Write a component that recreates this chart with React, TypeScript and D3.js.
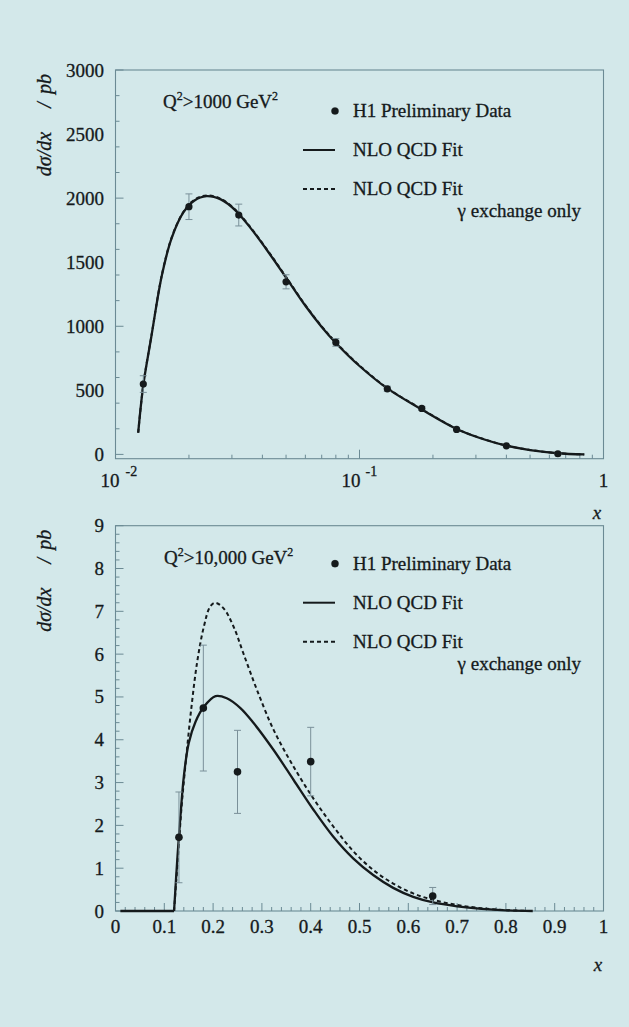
import React from 'react';
import * as d3 from 'd3';

const W = 629;
const H = 1027;
const FONT = '"Liberation Serif", "DejaVu Serif", serif';
const BG = '#d3e8ea';
const FRAME = '#6b8a94';
const INK = '#151a1c';
const ERR = '#7a9099';

// ---- upper panel: Q^2 > 1000 GeV^2 (log x) ----
const topDataX = [0.013, 0.02, 0.032, 0.05, 0.08, 0.13, 0.18, 0.25, 0.4, 0.65];
const topDataY = [549, 1933, 1868, 1347, 874, 512, 359, 195, 67, 5];
const topDataErr = [65, 100, 85, 55, 30, 20, 15, 10, 8, 4];

const topFitX = [0.01239, 0.013, 0.014, 0.0155, 0.017, 0.019, 0.021, 0.0236, 0.027, 0.031, 0.036, 0.043, 0.05, 0.06, 0.07, 0.08, 0.1, 0.13, 0.18, 0.25, 0.32, 0.4, 0.5, 0.65, 0.834];
const topFitY = [169, 541, 910, 1400, 1690, 1890, 1980, 2016, 1990, 1905, 1760, 1560, 1380, 1160, 995, 870, 690, 515, 350, 198, 120, 68, 34, 9, 0];
const topGammaY = [170, 543, 913, 1404, 1694, 1894, 1985, 2021, 1995, 1910, 1765, 1565, 1385, 1165, 999, 874, 694, 518, 353, 200, 122, 69, 35, 9, 0];

const topYTickLabels = ['0', '500', '1000', '1500', '2000', '2500', '3000'];

// ---- lower panel: Q^2 > 10,000 GeV^2 (linear x) ----
const botDataX = [0.13, 0.18, 0.25, 0.4, 0.65];
const botDataY = [1.72, 4.74, 3.25, 3.49, 0.35];
const botDataErr = [1.06, 1.47, 0.97, 0.8, 0.2];

const botFlatX = [0.01, 0.12];
const botFitX = [0.12, 0.127, 0.133, 0.14, 0.15, 0.164, 0.181, 0.205, 0.228, 0.256, 0.283, 0.324, 0.365, 0.406, 0.446, 0.487, 0.528, 0.569, 0.61, 0.651, 0.7, 0.75, 0.8, 0.855];
const botFitY = [0, 1.27, 2.2, 3.14, 3.92, 4.42, 4.77, 5.02, 4.97, 4.74, 4.39, 3.76, 3.06, 2.36, 1.74, 1.23, 0.84, 0.54, 0.33, 0.2, 0.11, 0.05, 0.015, 0];
const botGammaX = [0.12, 0.129, 0.136, 0.145, 0.155, 0.167, 0.181, 0.194, 0.2045, 0.2215, 0.242, 0.262, 0.29, 0.324, 0.365, 0.406, 0.446, 0.487, 0.528, 0.569, 0.61, 0.651, 0.7, 0.75, 0.8, 0.855];
const botGammaY = [0, 1.42, 2.52, 3.6, 4.7, 5.79, 6.64, 7.11, 7.2, 7.07, 6.64, 6.02, 5.16, 4.23, 3.37, 2.62, 1.98, 1.4, 0.96, 0.64, 0.41, 0.26, 0.14, 0.065, 0.02, 0];

const botXTickLabels = ['0', '0.1', '0.2', '0.3', '0.4', '0.5', '0.6', '0.7', '0.8', '0.9', '1'];
const botYTickLabels = ['0', '1', '2', '3', '4', '5', '6', '7', '8', '9'];

const legendLabels = ['H1 Preliminary Data', 'NLO QCD Fit', 'NLO QCD Fit', 'γ exchange only'];

const LEFT = 115.5;
const RIGHT = 603.5;
const smooth = d3.curveCatmullRom.alpha(0.5);

function Legend({ top }: { top: number }) {
  const ys = [top + 40, top + 79, top + 118, top + 140];
  return (
    <g fontFamily={FONT} fontSize={19} fill={INK} stroke={INK} strokeWidth={0.3}>
      <circle cx={335} cy={ys[0]} r={3.6} fill={INK} />
      <text x={353} y={ys[0] + 6}>{legendLabels[0]}</text>
      <line x1={303} x2={335} y1={ys[1]} y2={ys[1]} stroke={INK} strokeWidth={2} />
      <text x={353} y={ys[1] + 6}>{legendLabels[1]}</text>
      <line x1={303} x2={335} y1={ys[2]} y2={ys[2]} stroke={INK} strokeWidth={2} strokeDasharray="4,3" />
      <text x={353} y={ys[2] + 6}>{legendLabels[2]}</text>
      <text x={581} y={ys[3] + 6} textAnchor="end">{legendLabels[3]}</text>
    </g>
  );
}

function YTitle({ top }: { top: number }) {
  const x = 51;
  return (
    <g fontFamily={FONT} fontStyle="italic" fontSize={20} fill={INK} stroke={INK} strokeWidth={0.3}>
      <text transform={`translate(${x},${top + 14}) rotate(-90)`} textAnchor="middle">pb</text>
      <text transform={`translate(${x},${top + 35}) rotate(-90)`} textAnchor="middle">/</text>
      <text transform={`translate(${x},${top + 84}) rotate(-90)`} textAnchor="middle">dσ/dx</text>
    </g>
  );
}

function TopPanel() {
  const top = 70;
  const bottom = 458.7;
  const x = d3.scaleLog().domain([0.01, 1]).range([LEFT, RIGHT]);
  const y = d3.scaleLinear().domain([0, 3000]).range([454.4, top]);

  const line = d3.line<number>().x((_, i) => x(topFitX[i])).y(d => y(d)).curve(smooth);
  const xTicks = x.ticks();
  const yTicks = y.ticks(12);

  return (
    <g>
      <rect x={LEFT} y={top} width={RIGHT - LEFT} height={bottom - top} fill="none" stroke={FRAME} strokeWidth={1.1} />
      {yTicks.map(t => (
        <line key={t} x1={LEFT} x2={LEFT + (t % 500 === 0 ? 8 : 4)} y1={y(t)} y2={y(t)} stroke={FRAME} strokeWidth={1} />
      ))}
      {xTicks.map(t => {
        const major = Math.abs(Math.log10(t) - Math.round(Math.log10(t))) < 1e-6;
        return <line key={t} x1={x(t)} x2={x(t)} y1={bottom} y2={bottom - (major ? 9 : 4)} stroke={FRAME} strokeWidth={1} />;
      })}
      <g fontFamily={FONT} fontSize={19} fill={INK} stroke={INK} strokeWidth={0.3}>
        {topYTickLabels.map(l => (
          <text key={l} x={104} y={y(+l) + 6.5} textAnchor="end">{l}</text>
        ))}
        <text x={x(0.01) + 4} y={487} textAnchor="end">10</text>
        <text x={x(0.01) + 10} y={476} fontSize={14}>-2</text>
        <text x={x(0.1) + 1} y={487} textAnchor="end">10</text>
        <text x={x(0.1) + 6} y={476} fontSize={14}>-1</text>
        <text x={x(1)} y={487} textAnchor="middle">1</text>
        <text x={597} y={519} fontStyle="italic" textAnchor="middle">x</text>
        <text x={163} y={108}>
          Q<tspan dy={-8} fontSize={12}>2</tspan>
          <tspan dy={8}>&gt;1000 GeV</tspan>
          <tspan dy={-8} fontSize={12}>2</tspan>
        </text>
      </g>
      <YTitle top={top} />
      <Legend top={top + 1} />
      <path d={line(topGammaY) || ''} fill="none" stroke={INK} strokeWidth={2} strokeDasharray="4,3" />
      <path d={line(topFitY) || ''} fill="none" stroke={INK} strokeWidth={2.3} />
      {topDataX.map((v, i) => (
        <g key={v} stroke={ERR} strokeWidth={1}>
          <line x1={x(v)} x2={x(v)} y1={y(topDataY[i] - topDataErr[i])} y2={y(topDataY[i] + topDataErr[i])} />
          <line x1={x(v) - 3.5} x2={x(v) + 3.5} y1={y(topDataY[i] - topDataErr[i])} y2={y(topDataY[i] - topDataErr[i])} />
          <line x1={x(v) - 3.5} x2={x(v) + 3.5} y1={y(topDataY[i] + topDataErr[i])} y2={y(topDataY[i] + topDataErr[i])} />
          <circle cx={x(v)} cy={y(topDataY[i])} r={3.6} fill={INK} stroke="none" />
        </g>
      ))}
    </g>
  );
}

function BottomPanel() {
  const top = 525.7;
  const bottom = 911;
  const x = d3.scaleLinear().domain([0, 1]).range([LEFT, RIGHT]);
  const y = d3.scaleLinear().domain([0, 9]).range([bottom, top]);

  const fit = d3.line<number>().x((_, i) => x(botFitX[i])).y(d => y(d)).curve(smooth);
  const gamma = d3.line<number>().x((_, i) => x(botGammaX[i])).y(d => y(d)).curve(smooth);
  const flat = d3.line<number>().x(d => x(d)).y(() => y(0));
  const xTicks = x.ticks(50);
  const yTicks = y.ticks(45);

  return (
    <g>
      <rect x={LEFT} y={top} width={RIGHT - LEFT} height={bottom - top} fill="none" stroke={FRAME} strokeWidth={1.1} />
      {yTicks.map(t => (
        <line key={t} x1={LEFT} x2={LEFT + (Math.abs(t - Math.round(t)) < 1e-6 ? 8 : 4)} y1={y(t)} y2={y(t)} stroke={FRAME} strokeWidth={1} />
      ))}
      {xTicks.map(t => (
        <line key={t} x1={x(t)} x2={x(t)} y1={bottom} y2={bottom - (Math.abs(t * 10 - Math.round(t * 10)) < 1e-6 ? 8 : 4)} stroke={FRAME} strokeWidth={1} />
      ))}
      <g fontFamily={FONT} fontSize={19} fill={INK} stroke={INK} strokeWidth={0.3}>
        {botYTickLabels.map(l => (
          <text key={l} x={104} y={y(+l) + 6.5} textAnchor="end">{l}</text>
        ))}
        {botXTickLabels.map(l => (
          <text key={l} x={x(+l)} y={933} textAnchor="middle">{l}</text>
        ))}
        <text x={598} y={971} fontStyle="italic" textAnchor="middle">x</text>
        <text x={164} y={564}>
          Q<tspan dy={-8} fontSize={12}>2</tspan>
          <tspan dy={8}>&gt;10,000 GeV</tspan>
          <tspan dy={-8} fontSize={12}>2</tspan>
        </text>
      </g>
      <YTitle top={top} />
      <Legend top={top - 2} />
      <path d={flat(botFlatX) || ''} fill="none" stroke={INK} strokeWidth={2.3} />
      <path d={gamma(botGammaY) || ''} fill="none" stroke={INK} strokeWidth={2} strokeDasharray="4,3" />
      <path d={fit(botFitY) || ''} fill="none" stroke={INK} strokeWidth={2.3} />
      {botDataX.map((v, i) => (
        <g key={v} stroke={ERR} strokeWidth={1}>
          <line x1={x(v)} x2={x(v)} y1={y(botDataY[i] - botDataErr[i])} y2={y(botDataY[i] + botDataErr[i])} />
          <line x1={x(v) - 3.5} x2={x(v) + 3.5} y1={y(botDataY[i] - botDataErr[i])} y2={y(botDataY[i] - botDataErr[i])} />
          <line x1={x(v) - 3.5} x2={x(v) + 3.5} y1={y(botDataY[i] + botDataErr[i])} y2={y(botDataY[i] + botDataErr[i])} />
          <circle cx={x(v)} cy={y(botDataY[i])} r={3.8} fill={INK} stroke="none" />
        </g>
      ))}
    </g>
  );
}

export default function App() {
  return (
    <svg width={W} height={H} style={{ position: 'absolute', left: 0, top: 0, display: 'block' }}>
      <rect width={W} height={H} fill={BG} />
      <TopPanel />
      <BottomPanel />
    </svg>
  );
}
